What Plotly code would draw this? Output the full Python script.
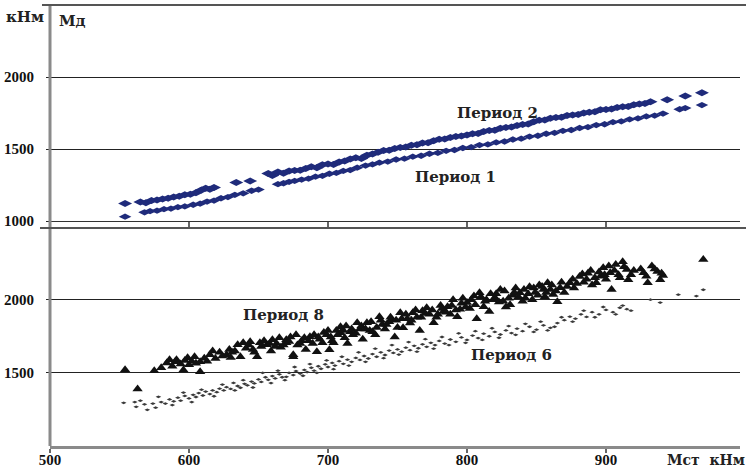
import plotly.graph_objects as go

# ---- upper panel: Period 1 / Period 2 (кНм) ----
p1_x = [554, 568, 572, 577, 582, 587, 592, 597, 603, 608, 613, 618, 623, 628, 633, 639, 645, 650,
        664, 668, 672, 676, 681, 686, 691, 696, 701, 706, 711, 716, 721, 727, 732, 737, 743, 749,
        755, 761, 767, 773, 779, 785, 791, 797, 803, 809, 815, 821, 827, 833, 839, 845, 851, 857,
        863, 869, 875, 881, 887, 893, 899, 905, 911, 917, 923, 929, 935, 941, 953, 957, 969]
p1_y = [1030, 1060, 1068, 1072, 1082, 1086, 1096, 1101, 1113, 1120, 1135, 1142, 1158, 1166, 1182, 1192, 1210, 1218,
        1256, 1262, 1272, 1278, 1288, 1294, 1308, 1314, 1328, 1334, 1348, 1354, 1370, 1385, 1393, 1405, 1413, 1427,
        1433, 1447, 1453, 1467, 1473, 1487, 1493, 1507, 1513, 1527, 1532, 1546, 1552, 1566, 1572, 1586, 1592, 1606,
        1612, 1626, 1632, 1646, 1652, 1666, 1672, 1686, 1692, 1706, 1712, 1726, 1732, 1746, 1776, 1784, 1805]

p2_x = [554, 565, 569, 573, 577, 581, 585, 589, 593, 597, 601, 605, 609, 612, 615, 618, 634, 644,
        657, 660, 664, 668, 672, 676, 680, 684, 688, 692, 696, 700, 704, 708, 712, 716, 720, 724,
        728, 732, 736, 740, 744, 748, 752, 756, 760, 764, 768, 772, 776, 780, 784, 788, 792, 796,
        800, 804, 808, 812, 816, 820, 824, 828, 832, 836, 840, 844, 848, 852, 856, 860, 864, 868,
        872, 876, 880, 884, 888, 892, 896, 900, 904, 908, 912, 916, 920, 924, 928, 932, 944, 957, 969]
p2_y = [1122, 1132, 1126, 1142, 1146, 1152, 1158, 1167, 1172, 1182, 1186, 1197, 1215, 1228, 1220, 1232, 1268, 1278,
        1330, 1316, 1340, 1332, 1347, 1350, 1352, 1364, 1376, 1370, 1390, 1396, 1392, 1410, 1416, 1430, 1440, 1434,
        1456, 1466, 1478, 1490, 1492, 1504, 1510, 1514, 1526, 1530, 1542, 1544, 1558, 1568, 1570, 1580, 1586, 1590,
        1598, 1606, 1608, 1622, 1628, 1630, 1644, 1650, 1653, 1664, 1670, 1674, 1690, 1700, 1702, 1714, 1718, 1720,
        1732, 1736, 1740, 1750, 1756, 1758, 1772, 1775, 1778, 1788, 1794, 1796, 1808, 1812, 1816, 1828, 1842, 1868, 1890]

# ---- lower panel: Period 8 / Period 6 (кНм) ----
p8_x = [554, 563, 575, 580, 584, 588, 591, 594, 596, 599, 602, 605, 608, 608, 611, 615, 619, 622,
        627, 630, 633, 635, 637, 639, 641, 644, 647, 649, 652, 656, 659, 660, 663, 666, 670, 670,
        673, 675, 675, 678, 681, 684, 687, 689, 692, 694, 697, 699, 701, 703, 704, 706, 709, 709,
        712, 714, 716, 718, 721, 723, 725, 728, 730, 732, 734, 737, 739, 741, 744, 746, 748, 750,
        752, 754, 757, 759, 761, 764, 766, 768, 771, 773, 776, 778, 781, 783, 786, 788, 790, 793,
        795, 797, 800, 802, 805, 807, 809, 812, 814, 816, 819, 821, 824, 826, 828, 831, 833, 835,
        838, 840, 842, 845, 847, 849, 852, 855, 856, 858, 860, 862, 865, 867, 870, 874, 877, 881,
        884, 887, 890, 893, 896, 898, 900, 903, 904, 907, 910, 912, 915, 916, 920, 927, 930, 933,
        937, 939, 941, 970,
        586, 590, 597, 600, 604, 613, 617, 624, 629, 631, 643, 646, 651, 654, 658, 662, 665, 668,
        672, 677, 680, 683, 686, 690, 693, 696, 700, 702, 707, 711, 713, 717, 720, 724, 727, 731,
        735, 738, 742, 745, 749, 753, 756, 760, 763, 767, 770, 775, 779, 782, 785, 789, 792, 796,
        799, 803, 806, 810, 813, 817, 820, 823, 827, 830, 834, 837, 841, 844, 848, 851, 854, 857,
        861, 864, 868, 872, 876, 879, 883, 886, 889, 892, 895, 899, 902, 906, 909, 913, 918, 925,
        929, 935, 940]
p8_y = [1521, 1390, 1514, 1535, 1568, 1545, 1589, 1560, 1520, 1603, 1580, 1565, 1575, 1507, 1600, 1623, 1598, 1640,
        1623, 1605, 1650, 1692, 1610, 1705, 1668, 1712, 1640, 1610, 1680, 1692, 1650, 1726, 1700, 1675, 1705, 1726,
        1745, 1610, 1623, 1690, 1720, 1660, 1747, 1700, 1644, 1730, 1775, 1760, 1658, 1720, 1705, 1790, 1774, 1815,
        1740, 1700, 1781, 1760, 1842, 1800, 1730, 1842, 1790, 1781, 1760, 1884, 1830, 1800, 1850, 1863, 1745, 1810,
        1911, 1808, 1870, 1840, 1911, 1880, 1790, 1925, 1945, 1900, 1842, 1880, 1960, 1920, 1952, 1900, 2000, 1884,
        1935, 2010, 1980, 1940, 2025, 1870, 2048, 1952, 2000, 1920, 2000, 2040, 2069, 1990, 1950, 1966, 2030, 2080,
        2048, 1990, 2010, 2089, 2000, 2050, 2100, 2069, 2020, 2116, 2069, 2035, 1986, 2082, 2050, 2116, 2080, 2158,
        2120, 2180, 2100, 2116, 2160, 2219, 2140, 2185, 2069, 2240, 2150, 2260, 2206, 2137, 2200, 2185, 2116, 2230,
        2192, 2137, 2165, 2274,
        1590, 1575, 1585, 1555, 1610, 1580, 1650, 1615, 1660, 1640, 1690, 1660, 1705, 1720, 1700, 1680, 1740, 1690,
        1715, 1760, 1700, 1740, 1720, 1760, 1745, 1705, 1790, 1745, 1760, 1790, 1820, 1800, 1770, 1820, 1800, 1850,
        1810, 1860, 1830, 1880, 1860, 1870, 1900, 1860, 1930, 1880, 1905, 1930, 1900, 1940, 1915, 1960, 1930, 1975,
        1950, 2000, 1965, 2020, 1990, 2040, 2015, 1985, 2060, 2010, 2050, 2020, 2070, 2040, 2080, 2030, 2090, 2050,
        2100, 2060, 2120, 2090, 2140, 2110, 2175, 2140, 2200, 2150, 2190, 2170, 2230, 2200, 2170, 2225, 2170, 2210,
        2160, 2210, 2180]

p6_x = [553, 561, 562, 568, 570, 574, 578, 580, 583, 586, 589, 592, 594, 597, 600, 603, 605, 607,
        610, 612, 615, 617, 620, 622, 625, 627, 630, 632, 635, 637, 640, 642, 645, 647, 650, 652,
        655, 657, 660, 662, 665, 667, 670, 672, 675, 677, 680, 683, 685, 688, 690, 693, 695, 698,
        700, 703, 705, 708, 711, 714, 717, 720, 723, 726, 729, 732, 735, 738, 741, 744, 747, 750,
        753, 756, 759, 762, 765, 768, 771, 774, 777, 780, 784, 788, 792, 796, 800, 804, 808, 812,
        816, 820, 824, 828, 832, 836, 840, 845, 850, 855, 860, 865, 870, 874, 878, 882, 886, 890,
        895, 900, 905, 910, 915, 932, 939, 952, 965, 970,
        565, 576, 588, 596, 602, 609, 618, 624, 633, 639, 646, 653, 659, 664, 669, 676, 682, 687,
        692, 699, 704, 710, 715, 722, 727, 734, 740, 746, 751, 758, 764, 770, 776, 782, 787, 794,
        799, 806, 811, 818, 823, 830, 835, 842, 848, 853, 858, 863, 868, 876, 884, 892, 898, 907,
        912, 918]
p6_y = [1295, 1300, 1268, 1285, 1247, 1290, 1336, 1300, 1290, 1318, 1305, 1330, 1310, 1342, 1325, 1350, 1335, 1362,
        1345, 1372, 1355, 1380, 1368, 1392, 1380, 1402, 1390, 1431, 1410, 1398, 1425, 1415, 1440, 1428, 1455, 1438,
        1470, 1452, 1478, 1462, 1490, 1470, 1473, 1500, 1485, 1512, 1495, 1520, 1505, 1535, 1515, 1545, 1528, 1558,
        1540, 1568, 1550, 1580, 1562, 1590, 1575, 1602, 1588, 1615, 1598, 1628, 1610, 1640, 1622, 1652, 1636, 1660,
        1645, 1672, 1655, 1685, 1668, 1695, 1678, 1705, 1690, 1718, 1700, 1728, 1712, 1742, 1725, 1755, 1738, 1768,
        1750, 1780, 1762, 1790, 1772, 1802, 1785, 1815, 1795, 1825, 1808, 1840, 1860, 1884, 1870, 1900, 1882, 1915,
        1900, 1930, 1915, 1945, 1935, 2000, 1980, 2034, 2025, 2068,
        1310, 1262, 1280, 1365, 1300, 1385, 1340, 1420, 1380, 1450, 1400, 1500, 1430, 1515, 1450, 1540, 1480, 1560,
        1500, 1585, 1525, 1610, 1550, 1640, 1575, 1665, 1600, 1690, 1625, 1710, 1645, 1730, 1665, 1745, 1690, 1770,
        1705, 1785, 1725, 1805, 1740, 1820, 1760, 1835, 1780, 1850, 1790, 1815, 1880, 1850, 1925, 1880, 1950, 1900,
        1960, 1925]

x_ticks = [500, 600, 700, 800, 900]
top_y_ticks = [1000, 1500, 2000]
bottom_y_ticks = [1500, 2000]

NAVY = "#1f2b7b"
SERIF_NUM = "Liberation Serif"
SERIF_TXT = "DejaVu Serif"

fig = go.Figure()

fig.add_trace(go.Scatter(x=p1_x, y=p1_y, mode="markers", xaxis="x2", yaxis="y2",
                         marker=dict(symbol="diamond-wide", size=9, color=NAVY, line=dict(width=0))))
fig.add_trace(go.Scatter(x=p2_x, y=p2_y, mode="markers", xaxis="x2", yaxis="y2",
                         marker=dict(symbol="diamond-wide", size=10, color=NAVY, line=dict(width=0))))
fig.add_trace(go.Scatter(x=p6_x, y=p6_y, mode="markers", xaxis="x", yaxis="y",
                         marker=dict(symbol="diamond-wide", size=4, color="#3a3a3a", line=dict(width=0))))
fig.add_trace(go.Scatter(x=p8_x, y=p8_y, mode="markers", xaxis="x", yaxis="y",
                         marker=dict(symbol="triangle-up", size=9, color="#111111", line=dict(width=0))))

num_font = dict(family=SERIF_NUM, size=15, color="#111111", weight="bold")
txt_font = dict(family=SERIF_TXT, size=15, color="#222222", weight="bold")

X_RANGE = [500, 996.4]
BOTTOM_TOP = 0.4943
TOP_BOTTOM = 0.5102

fig.update_layout(
    width=746, height=470,
    margin=dict(l=50, r=6, t=5, b=24, autoexpand=False),
    paper_bgcolor="white", plot_bgcolor="white",
    showlegend=False,
    xaxis=dict(domain=[0, 1], range=X_RANGE, anchor="y", tickvals=x_ticks, automargin=False,
               ticks="outside", ticklen=4, tickcolor="#666", tickwidth=1.5, ticklabelstandoff=-6,
               showline=True, linecolor="#8a8a8a", linewidth=2.5,
               showgrid=False, zeroline=False, tickfont=num_font),
    yaxis=dict(domain=[0, BOTTOM_TOP], range=[1000, 2490], anchor="x", tickvals=bottom_y_ticks,
               automargin=False, ticks="outside", ticklen=3, tickcolor="#222", ticklabelstandoff=9,
               showgrid=True, gridcolor="#222222", gridwidth=1.3,
               showline=False, zeroline=False, tickfont=num_font),
    xaxis2=dict(domain=[0, 1], range=X_RANGE, anchor="y2", tickvals=x_ticks[1:], automargin=False,
                ticks="outside", ticklen=7, tickcolor="#666", tickwidth=1.5,
                showticklabels=False, showline=True, linecolor="#333333", linewidth=1.3,
                showgrid=False, zeroline=False),
    yaxis2=dict(domain=[TOP_BOTTOM, 1], range=[1000, 2500], anchor="x2", tickvals=top_y_ticks,
                automargin=False, ticks="outside", ticklen=3, tickcolor="#222", ticklabelstandoff=9,
                showgrid=True, gridcolor="#222222", gridwidth=1.3,
                showline=False, zeroline=False, tickfont=num_font),
)

# frame lines: left axis, top border, panel separator
fig.add_shape(type="line", xref="paper", yref="paper", x0=0, x1=0, y0=0, y1=1,
              line=dict(color="#8a8a8a", width=3))
fig.add_shape(type="line", xref="paper", yref="paper", x0=-0.0116, x1=1.01, y0=1, y1=1,
              line=dict(color="#555555", width=2))
fig.add_shape(type="line", xref="paper", yref="paper", x0=-0.0145, x1=1.01, y0=BOTTOM_TOP, y1=BOTTOM_TOP,
              line=dict(color="#555555", width=2))

def label(text, x, y, xref, yref, size=15):
    return dict(text=text, xref=xref, yref=yref, x=x, y=y, showarrow=False,
                xanchor="center", yanchor="middle", font=dict(txt_font, size=size))

annotations = [
    label("кНм", -0.036, 0.9728, "paper", "paper"),
    label("Мд", 0.0319, 0.9637, "paper", "paper"),
    label("Период 2", 821.6, 1750, "x2", "y2"),
    label("Период 1", 792, 1305, "x2", "y2"),
    label("Период 8", 668, 1897, "x", "y"),
    label("Период 6", 832, 1623, "x", "y"),
    label("Мст&nbsp;&nbsp;кНм", 0.950, -0.0317, "paper", "paper", size=14),
]
fig.update_layout(annotations=annotations)

fig.write_html("out.html")
